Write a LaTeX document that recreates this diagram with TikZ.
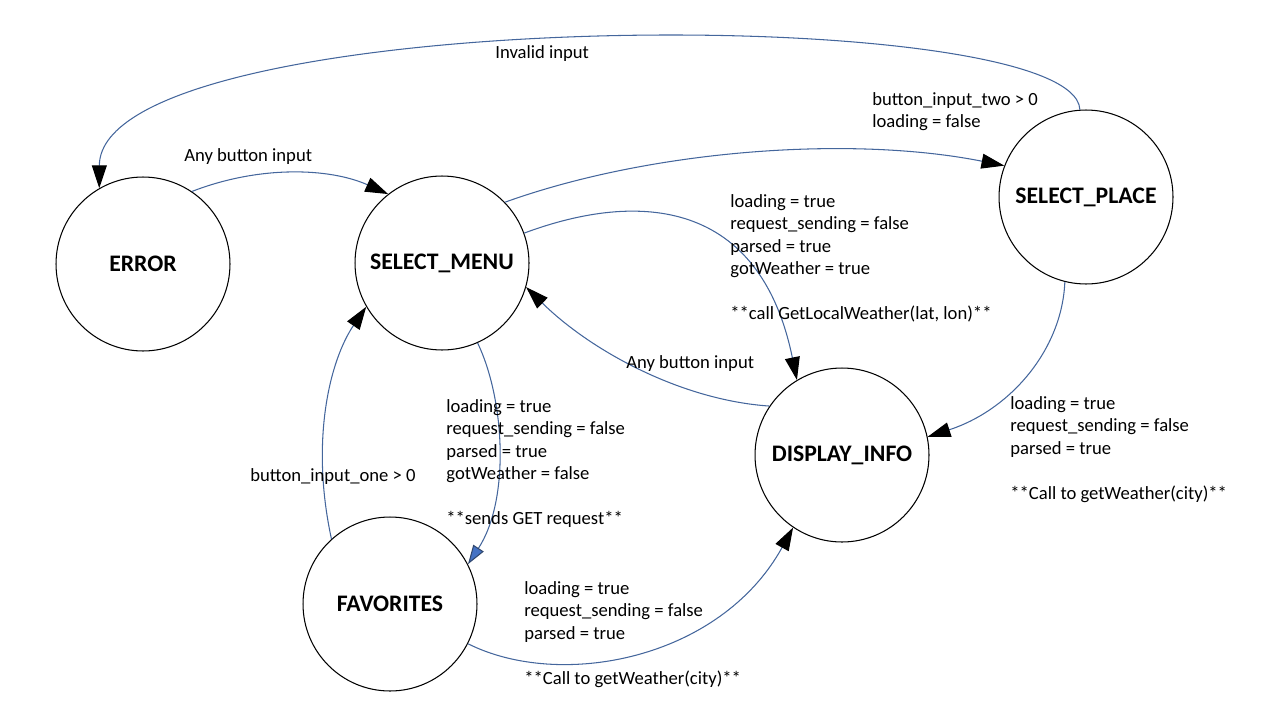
\documentclass[tikz,border=0pt]{standalone}
\usepackage{fontspec}
\setmainfont{Carlito}
\usetikzlibrary{arrows.meta}
\definecolor{linkblue}{RGB}{68,102,156}
\definecolor{tipblue}{RGB}{68,114,196}

\begin{document}
\begin{tikzpicture}[x=0.02cm, y=-0.02cm,
    state/.style={circle,draw,line width=0.6pt,minimum size=3.48cm,inner sep=0,font=\fontsize{13.5}{16}\selectfont\bfseries},
    link/.style={draw=linkblue,line width=0.6pt,-{Triangle[length=13pt,width=8.5pt,color=black,fill=black]}},
    blue link/.style={link,-{Triangle[length=11pt,width=7pt,color=linkblue!70!black,fill=tipblue]}},
    note/.style={anchor=north west,inner sep=0,align=left,font=\fontsize{10.6}{12.8}\selectfont}]

    \useasboundingbox (0,0) rectangle (1280,720);

    \node[state] (error)   at (143,264)  {ERROR};
    \node[state] (menu)    at (442,263)  {SELECT\_MENU};
    \node[state] (place)   at (1086,197) {SELECT\_PLACE};
    \node[state] (display) at (842,455)  {DISPLAY\_INFO};
    \node[state] (fav)     at (390,604)  {FAVORITES};

    \draw[link] (place.94) .. controls (1075,0) and (100,5) .. (error.120);
    \draw[link] (error.56) .. controls (260,165) and (330,168) .. (menu.128);
    \draw[link] (menu.44) .. controls (650,150) and (850,135) .. (place.159);
    \draw[link] (menu.20) .. controls (640,190) and (760,200) .. (display.121);
    \draw[link] (display.146) .. controls (680,400) and (590,350) .. (menu.-16);
    \draw[blue link] (menu.-66) .. controls (505,400) and (510,500) .. (fav.27);
    \draw[link] (fav.132) .. controls (310,440) and (330,360) .. (menu.210);
    \draw[link] (fav.-27) .. controls (560,690) and (720,660) .. (display.-124);
    \draw[link] (place.-104) .. controls (1062,350) and (1010,410) .. (display.12);

    \node[note] (invalid) at (495,45)  {Invalid input};
    \node[note] (two)     at (872,92)  {button\_input\_two > 0\\loading = false};
    \node[note] (anytop)  at (184,148) {Any button input};
    \node[note] (local)   at (730,194) {loading = true\\request\_sending = false\\parsed = true\\gotWeather = true\\[\baselineskip]**call GetLocalWeather(lat, lon)**};
    \node[note] (anymid)  at (626,355) {Any button input};
    \node[note] (city)    at (1010,396) {loading = true\\request\_sending = false\\parsed = true\\[\baselineskip]**Call to getWeather(city)**};
    \node[note] (get)     at (446,399) {loading = true\\request\_sending = false\\parsed = true\\gotWeather = false\\[\baselineskip]**sends GET request**};
    \node[note] (one)     at (250,468) {button\_input\_one > 0};
    \node[note] (favcity) at (524,581) {loading = true\\request\_sending = false\\parsed = true\\[\baselineskip]**Call to getWeather(city)**};
\end{tikzpicture}
\end{document}
